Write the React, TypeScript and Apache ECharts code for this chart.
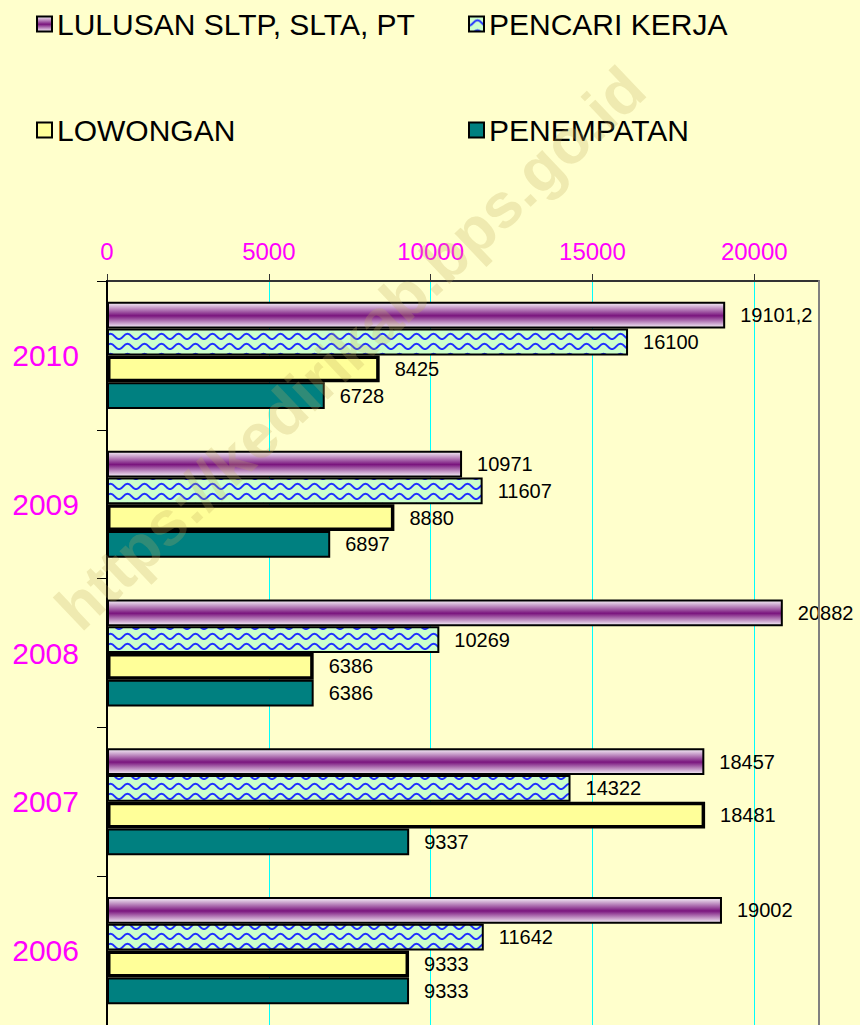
import React, { useEffect, useRef } from "react";
import * as echarts from "echarts";

const years = ["2010", "2009", "2008", "2007", "2006"];
const seriesNames = ["LULUSAN SLTP, SLTA, PT", "PENCARI KERJA", "LOWONGAN", "PENEMPATAN"];
const lulusan = [19101.2, 10971, 20882, 18457, 19002];
const pencariKerja = [16100, 11607, 10269, 14322, 11642];
const lowongan = [8425, 8880, 6386, 18481, 9333];
const penempatan = [6728, 6897, 6386, 9337, 9333];
const axisMin = 0;
const axisMax = 22000;
const axisInterval = 5000;
const watermarkText = "https://kedirikab.bps.go.id";

const FONT = "Liberation Sans";

function makeWavePattern(): HTMLCanvasElement {
  const c = document.createElement("canvas");
  c.width = 17;
  c.height = 10;
  const ctx = c.getContext("2d")!;
  ctx.fillStyle = "#CCFFCC";
  ctx.fillRect(0, 0, 17, 10);
  ctx.strokeStyle = "#1F2FFF";
  ctx.lineWidth = 2;
  ctx.beginPath();
  ctx.moveTo(-0.5, 9.2);
  ctx.bezierCurveTo(4, 9.2, 4.5, 3.8, 8.5, 3.8);
  ctx.bezierCurveTo(12.5, 3.8, 13, 9.2, 17.5, 9.2);
  ctx.stroke();
  return c;
}

export default function App() {
  const ref = useRef<HTMLDivElement>(null);
  useEffect(() => {
    if (!ref.current) return;
    const chart = echarts.init(ref.current, null, { renderer: "svg" });
    const wave = makeWavePattern();
    const labelCfg = {
      show: true,
      position: "right",
      distance: 15,
      color: "#000",
      fontSize: 20,
      fontFamily: FONT,
      formatter: (p: any) => String(p.value).replace(".", ","),
    };
    const legendText = { fontSize: 30, color: "#000", fontFamily: FONT, lineHeight: 30 };
    chart.setOption({
      animation: false,
      backgroundColor: "#FFFFCC",
      legend: [
        {
          data: [seriesNames[0], seriesNames[2]],
          orient: "vertical",
          left: 36,
          top: 9,
          padding: 0,
          itemGap: 76,
          itemWidth: 15,
          itemHeight: 15,
          icon: "rect",
          textStyle: legendText,
        },
        {
          data: [seriesNames[1], seriesNames[3]],
          orient: "vertical",
          left: 468,
          top: 9,
          padding: 0,
          itemGap: 76,
          itemWidth: 15,
          itemHeight: 15,
          icon: "rect",
          textStyle: legendText,
        },
      ],
      grid: { left: 107, top: 281, width: 712, height: 750, containLabel: false },
      xAxis: {
        type: "value",
        position: "top",
        min: axisMin,
        max: axisMax,
        interval: axisInterval,
        axisLine: { show: true, lineStyle: { color: "#333", width: 2 } },
        axisTick: { show: true, length: 7, lineStyle: { color: "#333", width: 1 } },
        axisLabel: {
          color: "#FF00FF",
          fontSize: 24,
          fontFamily: FONT,
          margin: 18,
          showMaxLabel: false,
          formatter: (v: number) => String(v),
        },
        splitLine: { show: true, lineStyle: { color: "#00FFFF", width: 1 } },
      },
      yAxis: [
        {
          type: "category",
          data: years,
          inverse: true,
          axisLine: { show: true, lineStyle: { color: "#000", width: 2 } },
          axisTick: { show: true, length: 10, lineStyle: { color: "#000", width: 1 } },
          axisLabel: { color: "#FF00FF", fontSize: 30, fontFamily: FONT, margin: 28 },
          splitLine: { show: false },
          z: 5,
        },
        {
          type: "category",
          data: years,
          inverse: true,
          position: "right",
          axisLine: { show: true, lineStyle: { color: "#808080", width: 2 } },
          axisTick: { show: false },
          axisLabel: { show: false },
          splitLine: { show: false },
          z: 5,
        },
      ],
      series: [
        {
          name: seriesNames[0],
          type: "bar",
          data: lulusan,
          barGap: "0%",
          barCategoryGap: "28%",
          itemStyle: {
            color: {
              type: "linear",
              x: 0,
              y: 0,
              x2: 0,
              y2: 1,
              colorStops: [
                { offset: 0, color: "#F6F0F8" },
                { offset: 0.52, color: "#7A157E" },
                { offset: 1, color: "#F6F0F8" },
              ],
            },
            borderColor: "#000",
            borderWidth: 2,
          },
          label: labelCfg,
        },
        {
          name: seriesNames[1],
          type: "bar",
          data: pencariKerja,
          barGap: "0%",
          barCategoryGap: "28%",
          itemStyle: {
            color: { image: wave, repeat: "repeat" },
            borderColor: "#000",
            borderWidth: 2,
          },
          label: labelCfg,
        },
        {
          name: seriesNames[2],
          type: "bar",
          data: lowongan,
          barGap: "0%",
          barCategoryGap: "28%",
          itemStyle: { color: "#FFFF99", borderColor: "#000", borderWidth: 3.5 },
          label: labelCfg,
        },
        {
          name: seriesNames[3],
          type: "bar",
          data: penempatan,
          barGap: "0%",
          barCategoryGap: "28%",
          itemStyle: { color: "#008080", borderColor: "#000", borderWidth: 2 },
          label: labelCfg,
        },
      ],
      graphic: [
        {
          type: "text",
          silent: true,
          z: 100,
          x: 350,
          y: 348,
          rotation: (43.5 * Math.PI) / 180,
          style: {
            text: watermarkText,
            font: `bold 63px ${FONT}`,
            fill: "rgba(190,170,90,0.25)",
            align: "center",
            verticalAlign: "middle",
          },
        },
      ],
    });
    return () => chart.dispose();
  }, []);
  return (
    <div
      ref={ref}
      style={{ position: "absolute", left: 0, top: 0, width: 860, height: 1025 }}
    />
  );
}
